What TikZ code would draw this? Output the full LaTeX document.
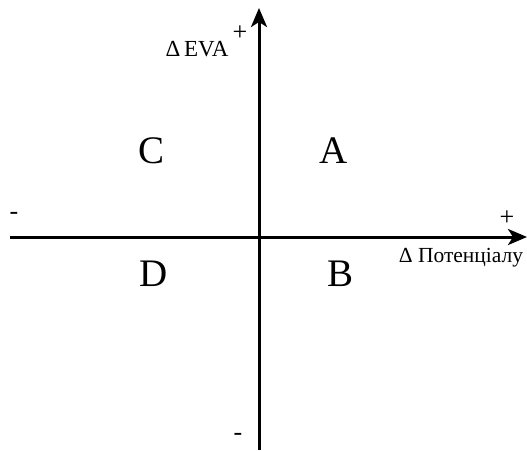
\documentclass[tikz,border=0pt]{standalone}
\usepackage{fontspec}
\setmainfont{Liberation Serif}
\usetikzlibrary{arrows.meta}
\begin{document}
\begin{tikzpicture}[x=1pt,y=-1pt,
  axis/.style={line width=3pt,-{Stealth[length=19pt,width=16pt,inset=5pt]}},
  quad/.style={font=\fontsize{39}{41}\selectfont,inner sep=0pt},
  lbl/.style={font=\fontsize{21.5}{23}\selectfont,inner sep=0pt},
  evalbl/.style={font=\fontsize{23}{25}\selectfont,inner sep=0pt},
  sgn/.style={font=\fontsize{26}{28}\selectfont,inner sep=0pt}]
\useasboundingbox (0,0) rectangle (527,450);
\coordinate (xs) at (10,237);
\coordinate (xe) at (527,237);
\coordinate (ys) at (259,450);
\coordinate (ye) at (259,8);
\draw[axis] (xs) -- (xe);
\draw[axis] (ys) -- (ye);
\node[quad] (C) at (152,151) {C};
\node[quad] (A) at (334,151) {A};
\node[quad] (D) at (154,274) {D};
\node[quad] (B) at (341,274) {B};
\node[evalbl] (eva) at (197,49) {Δ\,EVA};
\node[sgn] (yp) at (240,33) {+};
\node[sgn] (yn) at (238,437) {-};
\node[sgn] (xn) at (14,216) {-};
\node[sgn] (xp) at (507,218) {+};
\node[lbl] (pot) at (461,258) {Δ Потенціалу};
\end{tikzpicture}
\end{document}
